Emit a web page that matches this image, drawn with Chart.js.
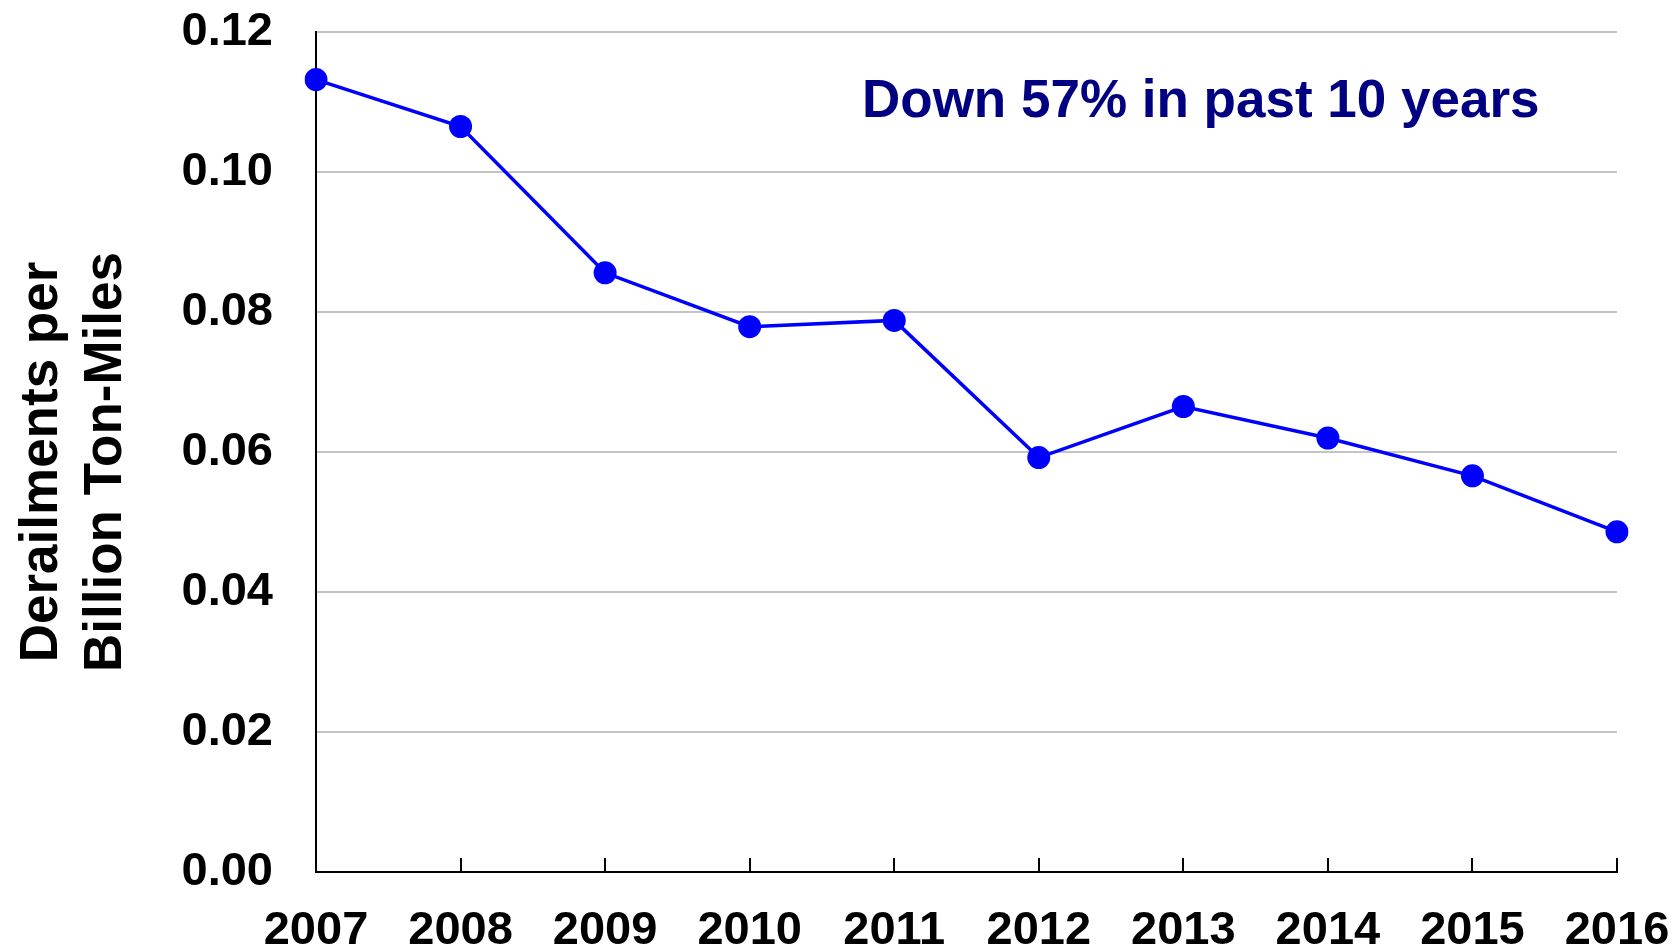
<!DOCTYPE html>
<html>
<head>
<meta charset="utf-8">
<script src="https://cdn.jsdelivr.net/npm/chart.js@4"></script>
<style>
  html, body { margin: 0; padding: 0; background: #ffffff; }
  #wrap { width: 1677px; height: 948px; }
</style>
</head>
<body>
<div id="wrap"><canvas id="c" width="1677" height="948"></canvas></div>
<script>
const years = ['2007','2008','2009','2010','2011','2012','2013','2014','2015','2016'];
const derailments = [0.1132, 0.1065, 0.0856, 0.0779, 0.0788, 0.0592, 0.0665, 0.0620, 0.0566, 0.0486];
const yTitle = ['Derailments per', 'Billion Ton-Miles'];
const note = 'Down 57% in past 10 years';

const FONT = '"Liberation Sans", Arial, sans-serif';

const textPlugin = {
  id: 'textPlugin',
  afterDraw(chart) {
    const ctx = chart.ctx;
    ctx.save();
    // annotation
    ctx.font = 'bold 53px ' + FONT;
    ctx.fillStyle = '#000080';
    ctx.textAlign = 'left';
    ctx.textBaseline = 'alphabetic';
    ctx.fillText(note, 862, 117);
    // y axis title (two lines, rotated)
    ctx.fillStyle = '#000000';
    ctx.textAlign = 'center';
    const cy = 462;
    const baselines = [57, 121];
    yTitle.forEach((line, i) => {
      ctx.save();
      ctx.translate(baselines[i], cy);
      ctx.rotate(-Math.PI / 2);
      ctx.fillText(line, 0, 0);
      ctx.restore();
    });
    // inward tick marks on the category axis
    const xs = chart.scales.x;
    const bottom = chart.chartArea.bottom;
    ctx.strokeStyle = '#000000';
    ctx.lineWidth = 2;
    xs.ticks.forEach((t, i) => {
      const px = Math.round(xs.getPixelForTick(i));
      ctx.beginPath();
      ctx.moveTo(px, bottom);
      ctx.lineTo(px, bottom - 14);
      ctx.stroke();
    });
    ctx.restore();
  }
};

new Chart(document.getElementById('c'), {
  type: 'line',
  data: {
    labels: years,
    datasets: [{
      data: derailments,
      borderColor: '#0000ff',
      backgroundColor: '#0000ff',
      borderWidth: 3.5,
      pointRadius: 11.5,
      pointHoverRadius: 11.5,
      pointBackgroundColor: '#0000ff',
      pointBorderColor: '#0000ff',
      pointBorderWidth: 0,
      tension: 0,
      fill: false
    }]
  },
  options: {
    responsive: false,
    devicePixelRatio: 1,
    animation: false,
    layout: { padding: 0 },
    plugins: { legend: { display: false }, tooltip: { enabled: false } },
    scales: {
      x: {
        offset: false,
        afterFit(scale) {
          scale.height = 76;
          scale.paddingLeft = 0;
          scale.paddingRight = 60;
        },
        grid: { display: false, drawOnChartArea: false, drawTicks: false },
        border: { display: true, color: '#000000', width: 2 },
        ticks: {
          color: '#000000',
          font: { family: FONT, size: 47, weight: 'bold' },
          padding: 31,
          maxRotation: 0,
          autoSkip: false
        }
      },
      y: {
        min: 0,
        max: 0.12,
        afterFit(scale) {
          scale.width = 316;
          scale.paddingTop = 32;
          scale.paddingBottom = 0;
        },
        grid: { display: true, drawTicks: false, color: '#c4c4c4', lineWidth: 2 },
        border: { display: true, color: '#000000', width: 2 },
        ticks: {
          stepSize: 0.02,
          color: '#000000',
          font: { family: FONT, size: 47, weight: 'bold' },
          padding: 43,
          callback: (v) => Number(v).toFixed(2)
        },
        title: { display: false }
      }
    }
  },
  plugins: [textPlugin]
});
</script>
</body>
</html>
